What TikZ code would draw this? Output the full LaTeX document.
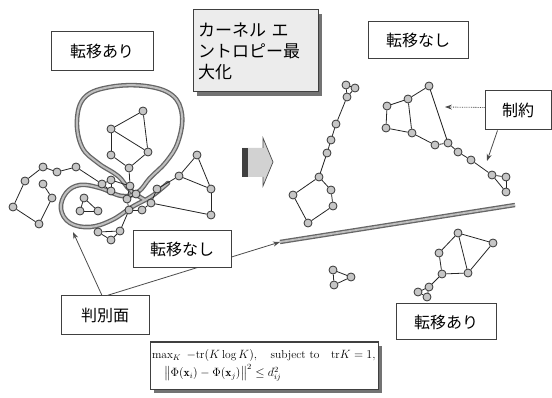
\documentclass[tikz,border=0pt]{standalone}
\usepackage{fontspec}
\usepackage{amsmath}
\newfontfamily\jp{Noto Sans CJK JP}
\usetikzlibrary{arrows.meta}
\begin{document}
\begin{tikzpicture}[x=1pt,y=-1pt,
  gn/.style={circle,draw=black!80,fill=gray!45,inner sep=0pt,minimum size=8pt,line width=0.8pt},
  ed/.style={line width=0.8pt,black!85},
  lab/.style={draw=black!75,line width=1pt,fill=white,inner sep=0pt,font=\jp\fontsize{16}{18}\selectfont},
  shad/.style={fill=black!55},
  curve/.style={draw=black!60,line width=4.6pt,line cap=round},
  curvein/.style={draw=gray!50,line width=2pt,line cap=round},
  pt/.style={-{Stealth[length=7pt,width=5pt]},line width=0.8pt,black!70}]
\useasboundingbox (0,0) rectangle (552,398);
\fill[white] (0,0) rectangle (552,398);
% discriminant curve (left cluster)
\def\curvepts{(168,183) (152,196) (132,207) (112,220) (90,227) (70,223) (61,209) (66,193) (80,185) (100,188) (122,196) (138,192) (150,178) (166,162) (178,142) (182,115) (172,95) (145,86) (110,87) (85,97) (77,120) (82,147) (98,163) (118,176) (130,190) (145,200)}
\draw[curve] plot[smooth,tension=0.65] coordinates {\curvepts};
\draw[curvein] plot[smooth,tension=0.65] coordinates {\curvepts};
% discriminant line (right)
\coordinate (dl) at (280,242);
\coordinate (dr) at (515,205);
\draw[black!60,line width=4.4pt] (dl) -- (dr);
\draw[gray!50,line width=1.8pt] (dl) -- (dr);
% nodes
\foreach \n/\x/\y in {L1/143/111,L2/111/129,L3/148/152,L4/111/155,L5/129/168,
  c1/130/186,c2/136/194,c3/127/199,c4/111/180,c5/111/191,c6/102/184,c7/129/210,c8/142/210,
  k1/13/207,k2/25/181,k3/43/167,k4/57/172,k5/76/167,k7/43/184,k8/52/198,k9/39/224,
  t1/84/198,t2/80/211,t3/98/211,b1/98/232,b2/111/240,b3/120/231,
  r1/197/155,r2/179/176,r3/157/189,r4/211/189,r5/211/215,r6/151/203,
  m1/346/85,m2/355/88,m3/347/97,m4/336/124,m5/331/140,m6/327/153,m7/319/177,m8/293/195,m9/331/190,m10/333/206,m11/308/223,
  g1/429/86,g2/408/99,g3/387/106,g4/386/128,g5/412/133,g6/435/145,g7/448/143,g8/458/152,g9/471/160,g10/492/175,g11/506/177,g12/506/192,
  h1/458/233,h2/493/243,h3/439/253,h4/442/274,h5/468/273,h6/429/287,h7/418/292,h8/427/297,
  s1/333/270,s2/351/277,s3/334/285}
  \node[gn] (\n) at (\x,\y) {};
% edges
\foreach \a/\b in {L1/L2,L1/L3,L2/L3,L2/L4,L4/L5,L3/L5,L5/c1,c1/c2,c2/c3,c3/c1,c3/c7,c7/c8,c8/r6,c4/c5,c4/c6,c5/c6,c4/c1,k5/c6,
  k2/k3,k3/k4,k4/k5,k2/k1,k1/k9,k9/k8,k8/k7,t1/t2,t2/t3,t1/t3,b1/b3,b1/b2,b2/b3,b3/c7,
  r1/r2,r1/r4,r2/r4,r2/r3,r4/r5,r5/r6,r3/r6,
  m1/m2,m2/m3,m1/m3,m3/m4,m4/m5,m5/m6,m6/m7,m7/m8,m7/m9,m9/m10,m8/m11,m11/m10,
  g1/g2,g2/g3,g3/g4,g4/g5,g2/g5,g5/g6,g6/g7,g7/g8,g8/g9,g9/g10,g10/g11,g11/g12,g12/g10,g1/g7,
  h1/h2,h1/h3,h1/h5,h2/h5,h3/h4,h4/h5,h4/h6,h6/h7,h7/h8,h6/h8,
  s1/s2,s2/s3,s1/s3}
  \draw[ed] (\a) -- (\b);
% big arrow
\fill[gray!35] (242,148) -- (263,148) -- (263,138) -- (273,162) -- (263,186) -- (263,177) -- (242,177) -- cycle;
\fill[black!75] (242,148) rectangle (248,177);
\draw[black!70,line width=0.7pt] (263,148) -- (263,138) -- (273,162) -- (263,186) -- (263,177);
% labels
\node[lab,minimum width=102pt,minimum height=39pt] (ta1) at (102,51.5) {転移あり};
\fill[shad] (197,14) rectangle (322,96);
\node[lab,fill=gray!15,minimum width=125pt,minimum height=82pt,align=left,text width=115pt,
  font=\jp\fontsize{17}{21}\selectfont] (kb) at (255.5,51) {カーネル エ\\ントロピー最\\大化};
\node[lab,minimum width=100pt,minimum height=37pt] (tn1) at (418,40.5) {転移なし};
\node[lab,minimum width=66pt,minimum height=39pt] (sy) at (518,110.5) {制約};
\coordinate (syl) at (445,107);
\coordinate (syd) at (487,161);
\draw[pt,densely dotted] (sy.west) ++(0,-3) -- (syl);
\draw[pt] (sy.south west) ++(13,0) -- (syd);
\node[lab,minimum width=88pt,minimum height=39pt] (hb) at (105,315.5) {判別面};
\coordinate (cv) at (73,232);
\draw[pt] (hb.north) ++(-3,0) -- (cv);
\draw[pt] (hb.north) ++(2,0) -- (dl);
\node[lab,minimum width=98pt,minimum height=37pt] (tn2) at (182,249.5) {転移なし};
\node[lab,minimum width=100pt,minimum height=36pt] (ta2) at (446,322) {転移あり};
\fill[shad] (154,346) rectangle (382,393);
\node[lab,minimum width=228pt,minimum height=47pt,font=\fontsize{11.5}{14}\selectfont,align=left,text width=224pt] (fm) at (264,365.5)
 {$\max_{K}\;-\mathrm{tr}(K\log K),\quad \text{subject to}\quad \mathrm{tr}K=1,$\\[2pt]
  \hspace{12pt}$\bigl\|\Phi(\mathbf{x}_i)-\Phi(\mathbf{x}_j)\bigr\|^2\le d_{ij}^2$};
\end{tikzpicture}
\end{document}
